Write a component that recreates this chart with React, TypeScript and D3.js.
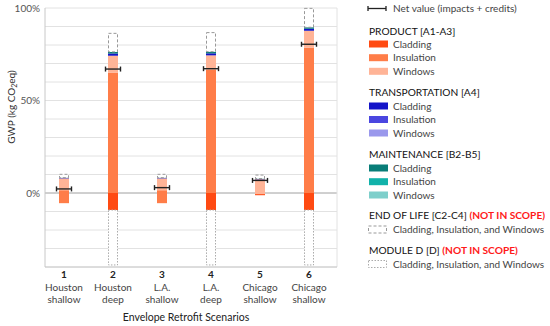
import React from "react";
import * as d3 from "d3";

const scenarioNums = ["1", "2", "3", "4", "5", "6"];
const scenarioCity = ["Houston", "Houston", "L.A.", "L.A.", "Chicago", "Chicago"];
const scenarioDepth = ["shallow", "deep", "shallow", "deep", "shallow", "shallow"];

// values in % of GWP
const prodCladding = [0, 0, 0, 0, 0, 0];
const prodInsulation = [1.5, 65.1, 1.5, 66.5, 0, 78.5];
const prodWindows = [6.4, 9.1, 6.4, 7.9, 7.4, 9.2];
const transCladding = [0.2, 1.2, 0.2, 1.1, 0.2, 1.1];
const transInsulation = [0, 0, 0, 0, 0, 0];
const transWindows = [0, 0, 0, 0, 0, 0];
const maintCladding = [0.2, 0.9, 0.2, 0.9, 0.2, 0.8];
const maintInsulation = [0, 0, 0, 0, 0, 0];
const maintWindows = [0, 0, 0, 0, 0, 0];
const endOfLife = [1.8, 10.0, 1.8, 10.3, 1.9, 10.2];
const negWindows = [0, 0, 0, 0, -0.6, 0];
const negInsulation = [-5.5, 0, -5.5, 0, 0, 0];
const negCladding = [0, -9.2, 0, -9.2, -0.6, -9.2];
const moduleD = [0, -29.7, 0, -29.7, 0, -29.7];
const netValue = [2.2, 67.0, 2.9, 67.2, 6.8, 80.4];

const yTicks = [0, 50, 100];
const yGrid = [-40, -30, -20, -10, 0, 10, 20, 30, 40, 50, 60, 70, 80, 90, 100];

const COLORS: Record<string, string> = {
  prodCladding: "#ff4a12",
  prodInsulation: "#ff7d48",
  prodWindows: "#ffb497",
  transCladding: "#1414c8",
  transInsulation: "#4a46e0",
  transWindows: "#9a98ec",
  maintCladding: "#087d78",
  maintInsulation: "#11b2aa",
  maintWindows: "#7ecfcb",
  negWindows: "#ffb497",
  negInsulation: "#ff7d48",
  negCladding: "#ff4a12",
};

const keys = [
  "prodCladding", "prodInsulation", "prodWindows",
  "transCladding", "transInsulation", "transWindows",
  "maintCladding", "maintInsulation", "maintWindows",
  "endOfLife",
  "negWindows", "negInsulation", "negCladding", "moduleD",
];
const series: Record<string, number[]> = {
  prodCladding, prodInsulation, prodWindows,
  transCladding, transInsulation, transWindows,
  maintCladding, maintInsulation, maintWindows,
  endOfLife, negWindows, negInsulation, negCladding, moduleD,
};

const FONT = "Lato, 'Noto Sans', sans-serif";

export default function App() {
  const W = 550, H = 326;
  const plotL = 45, plotR = 337, plotT = 8, plotB = 267;
  const y = d3.scaleLinear().domain([-40, 100]).range([plotB, plotT]);
  const x = d3.scalePoint<string>().domain(scenarioNums).range([64, 309]);
  const barW = 10;

  const table = scenarioNums.map((n, i) => {
    const row: Record<string, any> = { n };
    keys.forEach((k) => (row[k] = series[k][i]));
    return row;
  });
  const stacked = d3.stack<any>().keys(keys).offset(d3.stackOffsetDiverging)(table);

  const legendX = 369;
  const textX = 393;
  const swatch = (yc: number, color: string) => (
    <rect x={legendX} y={yc - 3.5} width={19} height={7} fill={color} />
  );
  const label = (yc: number, t: string) => (
    <text x={textX} y={yc} dy="0.35em" fontSize={10} fill="#444">{t}</text>
  );
  const header = (yc: number, t: string, red?: string) => (
    <text x={legendX} y={yc} dy="0.35em" fontSize={10.2} fill="#111">
      {t}
      {red && <tspan fill="#ff1a1a" fontWeight="bold">{red}</tspan>}
    </text>
  );

  return (
    <svg width={W} height={H} style={{ position: "absolute", left: 0, top: 0, fontFamily: FONT }}>
      <rect width={W} height={H} fill="#fff" />
      {/* grid */}
      {yGrid.map((g) => (
        <line key={g} x1={plotL} x2={plotR} y1={y(g)} y2={y(g)}
          stroke={g === 0 ? "#a0a0a0" : "#e2e2e2"} strokeWidth={1} />
      ))}
      <line x1={plotL} x2={plotL} y1={plotT} y2={plotB} stroke="#c8c8c8" />
      <line x1={plotR} x2={plotR} y1={plotT} y2={plotB} stroke="#e2e2e2" />
      <line x1={plotL} x2={plotR} y1={plotB} y2={plotB} stroke="#c8c8c8" />
      {yTicks.map((t) => (
        <text key={t} x={40} y={y(t)} dy="0.35em" textAnchor="end" fontSize={10} fill="#555">{t}%</text>
      ))}
      <text transform={`translate(11,107) rotate(-90)`} textAnchor="middle" fontSize={10} fill="#333" dy="0.35em">
        GWP (kg CO<tspan fontSize={7} dy="2">2</tspan><tspan dy="-2">eq)</tspan>
      </text>

      {/* bars */}
      {stacked.map((s) => {
        const k = s.key;
        return s.map((d, i) => {
          const v = series[k][i];
          if (!v) return null;
          const xc = x(scenarioNums[i])!;
          const y0 = y(Math.max(d[0], d[1]));
          const y1 = y(Math.min(d[0], d[1]));
          if (k === "endOfLife") {
            return (
              <rect key={k + i} x={xc - barW / 2 + 0.5} y={y0} width={barW - 1} height={y1 - y0}
                fill="#fff" stroke="#999" strokeDasharray="3,2" strokeWidth={1} />
            );
          }
          if (k === "moduleD") {
            return (
              <rect key={k + i} x={xc - barW / 2 + 0.5} y={y0} width={barW - 1} height={y1 - y0}
                fill="#fff" stroke="#aaa" strokeDasharray="1.5,1.5" strokeWidth={1} />
            );
          }
          return (
            <rect key={k + i} x={xc - barW / 2} y={y0} width={barW} height={y1 - y0} fill={COLORS[k]} />
          );
        });
      })}

      {/* net markers */}
      {netValue.map((v, i) => {
        const xc = x(scenarioNums[i])!;
        const yy = y(v);
        return (
          <g key={"net" + i} stroke="#222" strokeWidth={1.4}>
            <line x1={xc - 7.5} x2={xc + 7.5} y1={yy} y2={yy} />
            <line x1={xc - 7.5} x2={xc - 7.5} y1={yy - 2.5} y2={yy + 2.5} />
            <line x1={xc + 7.5} x2={xc + 7.5} y1={yy - 2.5} y2={yy + 2.5} />
          </g>
        );
      })}

      {/* x labels */}
      {scenarioNums.map((n, i) => {
        const xc = x(n)!;
        return (
          <g key={"xl" + n} textAnchor="middle" fill="#333">
            <text x={xc} y={274} dy="0.35em" fontSize={10} fontWeight="bold" fill="#222">{n}</text>
            <text x={xc} y={287} dy="0.35em" fontSize={10} fill="#444">{scenarioCity[i]}</text>
            <text x={xc} y={299} dy="0.35em" fontSize={10} fill="#444">{scenarioDepth[i]}</text>
          </g>
        );
      })}
      <text x={186} y={317} dy="0.35em" textAnchor="middle" fontSize={10.5} fill="#222">Envelope Retrofit Scenarios</text>

      {/* legend */}
      <g stroke="#222" strokeWidth={1.3}>
        <line x1={368} x2={386} y1={8.5} y2={8.5} />
        <line x1={368} x2={368} y1={6} y2={11} />
        <line x1={386} x2={386} y1={6} y2={11} />
      </g>
      {label(8.5, "Net value (impacts + credits)")}

      {header(31, "PRODUCT [A1-A3]")}
      {swatch(44, COLORS.prodCladding)}{label(44, "Cladding")}
      {swatch(57.7, COLORS.prodInsulation)}{label(57.7, "Insulation")}
      {swatch(71.3, COLORS.prodWindows)}{label(71.3, "Windows")}

      {header(92.7, "TRANSPORTATION [A4]")}
      {swatch(106, COLORS.transCladding)}{label(106, "Cladding")}
      {swatch(119.5, COLORS.transInsulation)}{label(119.5, "Insulation")}
      {swatch(133, COLORS.transWindows)}{label(133, "Windows")}

      {header(154.5, "MAINTENANCE [B2-B5]")}
      {swatch(168, COLORS.maintCladding)}{label(168, "Cladding")}
      {swatch(181.7, COLORS.maintInsulation)}{label(181.7, "Insulation")}
      {swatch(195, COLORS.maintWindows)}{label(195, "Windows")}

      {header(215.7, "END OF LIFE [C2-C4] ", "(NOT IN SCOPE)")}
      <rect x={368.5} y={226} width={18} height={7} fill="#fff" stroke="#999" strokeDasharray="3,2" />
      {label(229.5, "Cladding, Insulation, and Windows")}

      {header(250.7, "MODULE D [D] ", "(NOT IN SCOPE)")}
      <rect x={368.5} y={260.5} width={18} height={7} fill="#fff" stroke="#aaa" strokeDasharray="1.5,1.5" />
      {label(264, "Cladding, Insulation, and Windows")}
    </svg>
  );
}
